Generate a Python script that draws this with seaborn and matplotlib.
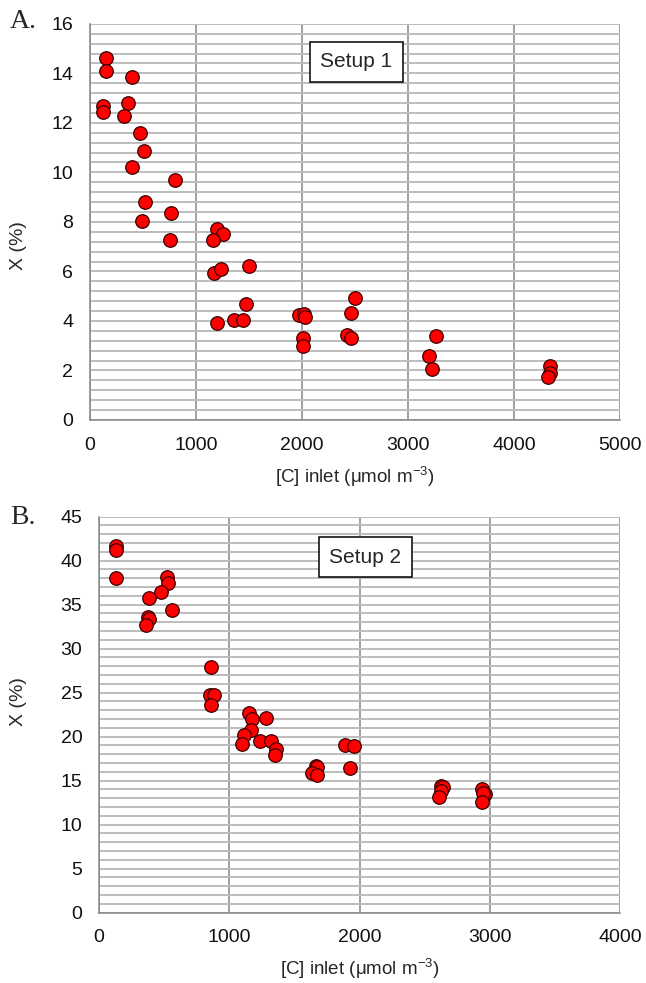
import numpy as np
import pandas as pd
import seaborn as sns
import matplotlib
matplotlib.use("Agg")
import matplotlib.pyplot as plt
from matplotlib.ticker import MultipleLocator

# ---- Data: Setup 1 ----
setup1_x = [149, 149, 395, 120, 120, 354, 322, 468, 505, 395, 806, 521, 490, 768, 752,
            1194, 1258, 1160, 1169, 1239, 1504, 1469, 1194, 1359, 1447,
            1975, 2016, 2025, 2009, 2009, 2496, 2464, 2423, 2464,
            3264, 3197, 3223, 4344, 4335, 4322]
setup1_y = [14.63, 14.11, 13.87, 12.68, 12.45, 12.82, 12.29, 11.58, 10.86, 10.22, 9.71, 8.79, 8.04, 8.35, 7.27,
            7.71, 7.52, 7.26, 5.94, 6.10, 6.21, 4.68, 3.92, 4.03, 4.03,
            4.23, 4.27, 4.17, 3.32, 3.00, 4.94, 4.32, 3.43, 3.30,
            3.40, 2.60, 2.05, 2.19, 1.89, 1.72]

# ---- Data: Setup 2 ----
setup2_x = [130, 130, 130, 523, 526, 475, 386, 557, 373, 383, 360,
            858, 855, 883, 863,
            1152, 1175, 1280, 1170, 1111, 1101, 1234, 1318, 1356, 1349,
            1663, 1676, 1634, 1676, 1885, 1956, 1928,
            2626, 2639, 2626, 2608, 2940, 2966, 2948, 2940]
setup2_y = [41.72, 41.27, 38.04, 38.19, 37.43, 36.41, 35.76, 34.39, 33.55, 33.36, 32.68,
            27.97, 24.78, 24.78, 23.59,
            22.64, 22.04, 22.07, 20.74, 20.17, 19.22, 19.49, 19.49, 18.65, 17.97,
            16.64, 16.60, 15.88, 15.69, 19.03, 18.88, 16.45,
            14.44, 14.25, 13.79, 13.10, 14.06, 13.49, 13.60, 12.53]

panel_letters = ["A.", "B."]
setup_labels = ["Setup 1", "Setup 2"]
x_label = "[C] inlet (\u03bcmol m$^{-3}$)"
y_label = "X (%)"

sns.set_style("white")
plt.rcParams["font.family"] = ["Liberation Sans", "DejaVu Sans"]
plt.rcParams["mathtext.default"] = "regular"

fig = plt.figure(figsize=(6.46, 9.83), dpi=100)
ax1 = fig.add_axes([90 / 646, 1 - 420 / 983, 530 / 646, (420 - 23.8) / 983])
ax2 = fig.add_axes([99 / 646, 1 - 912.6 / 983, 521 / 646, (912.6 - 516.7) / 983])

df1 = pd.DataFrame({"x": setup1_x, "y": setup1_y})
df2 = pd.DataFrame({"x": setup2_x, "y": setup2_y})

hcol = "#bdbdbd"
vcol = "#868686"

def style(ax, xmax, ymax, ymajor, yminor, ylab_pos):
    ax.set_xlim(0, xmax)
    ax.set_ylim(0, ymax)
    ax.xaxis.set_major_locator(MultipleLocator(1000))
    ax.yaxis.set_major_locator(MultipleLocator(ymajor))
    ax.yaxis.set_minor_locator(MultipleLocator(yminor))
    ax.grid(False)
    ax.grid(which="major", axis="x", color=vcol, lw=1.1, zorder=0)
    ax.grid(which="both", axis="y", color=hcol, lw=1.4, zorder=0)
    ax.set_axisbelow(True)
    for s in ["top", "right"]:
        ax.spines[s].set_visible(False)
    for s in ["left", "bottom"]:
        ax.spines[s].set_color(vcol)
        ax.spines[s].set_linewidth(1.1)
    ax.tick_params(axis="both", which="major", direction="out", length=6,
                   width=1, color=vcol, labelsize=14, labelcolor="#111111", pad=6)
    ax.tick_params(axis="y", which="minor", length=0)
    ax.set_xlabel(x_label, fontsize=13.5, labelpad=8)
    ax.set_ylabel(y_label, fontsize=14)
    ax.yaxis.set_label_coords(*ylab_pos)

for ax, df in [(ax1, df1), (ax2, df2)]:
    sns.scatterplot(data=df, x="x", y="y", ax=ax, s=95, color="#ff0000",
                    edgecolor="#3a0000", linewidth=0.9, zorder=3, legend=False)

style(ax1, 5000, 16, 2, 0.4, (-0.119, 0.44))
style(ax2, 4000, 45, 5, 1, (-0.138, 0.532))

ax1.text(2512, 14.46, setup_labels[0], fontsize=15, ha="center", va="center", zorder=5,
         bbox=dict(boxstyle="square,pad=0.5", fc="white", ec="black", lw=1.1))
ax2.text(2046, 40.4, setup_labels[1], fontsize=15, ha="center", va="center", zorder=5,
         bbox=dict(boxstyle="square,pad=0.5", fc="white", ec="black", lw=1.1))

fig.text(10 / 646, 1 - 22 / 983, panel_letters[0], fontsize=20, family="Liberation Serif",
         ha="left", va="center")
fig.text(10 / 646, 1 - 518 / 983, panel_letters[1], fontsize=20, family="Liberation Serif",
         ha="left", va="center")

fig.savefig("out.png", dpi=100, facecolor="white")
